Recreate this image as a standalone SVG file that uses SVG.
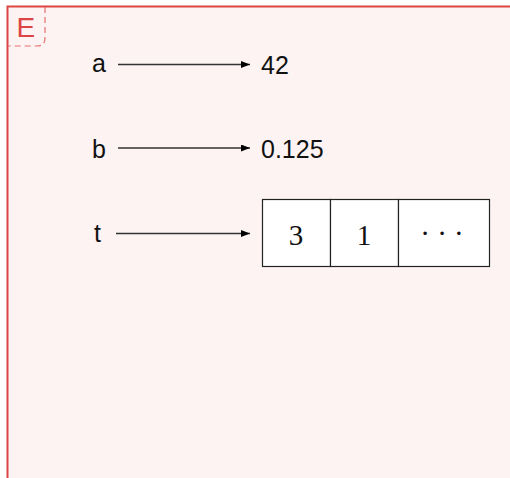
<svg xmlns="http://www.w3.org/2000/svg" width="510" height="478" viewBox="0 0 510 478">
<defs>
<marker id="ah" markerWidth="9" markerHeight="7" refX="9" refY="3.5" orient="auto" markerUnits="userSpaceOnUse">
<path d="M0,0 L9,3.5 L0,7 Z" fill="#000"/>
</marker>
<style>
.lbl{font-family:"Liberation Sans",Arial,sans-serif;font-size:25px;fill:#111}
.num{font-family:"Liberation Serif",serif;font-size:29px;fill:#111;text-anchor:middle}
.cell{fill:#fff;stroke:#222;stroke-width:1.2}
.conn{stroke:#333;stroke-width:1.3;fill:none;marker-end:url(#ah)}
</style>
</defs>
<rect x="0" y="0" width="510" height="478" fill="#fff"/>
<g id="frame">
<rect x="7.5" y="6.5" width="510" height="480" fill="#fdf3f3" stroke="#dd4444" stroke-width="2"/>
<path d="M45,7 L45,38 Q45,46 37,46 L8,46" fill="none" stroke="#e87070" stroke-width="1.2" stroke-dasharray="6,4"/>
<text x="16.5" y="37" font-family="Liberation Sans,Arial,sans-serif" font-size="28" fill="#dd4444">E</text>
</g>
<g id="connectors">
<line class="conn" x1="118" y1="64.5" x2="250" y2="64.5"/>
<line class="conn" x1="118" y1="148" x2="250" y2="148"/>
<line class="conn" x1="116" y1="233.5" x2="250" y2="233.5"/>
</g>
<g id="a"><text class="lbl" x="92" y="72">a</text></g>
<g id="b"><text class="lbl" x="92" y="158">b</text></g>
<g id="t"><text class="lbl" x="94" y="242">t</text></g>
<g id="v42"><text class="lbl" x="261" y="74">42</text></g>
<g id="v0125"><text class="lbl" x="261" y="158">0.125</text></g>
<g id="tuple">
<rect class="cell" x="262.5" y="199.5" width="68" height="67"/>
<rect class="cell" x="330.5" y="199.5" width="68" height="67"/>
<rect class="cell" x="398.5" y="199.5" width="91" height="67"/>
<text class="num" x="296" y="245">3</text>
<text class="num" x="364" y="245">1</text>
<text class="num" x="442" y="243" font-size="26">· · ·</text>
</g>
</svg>
